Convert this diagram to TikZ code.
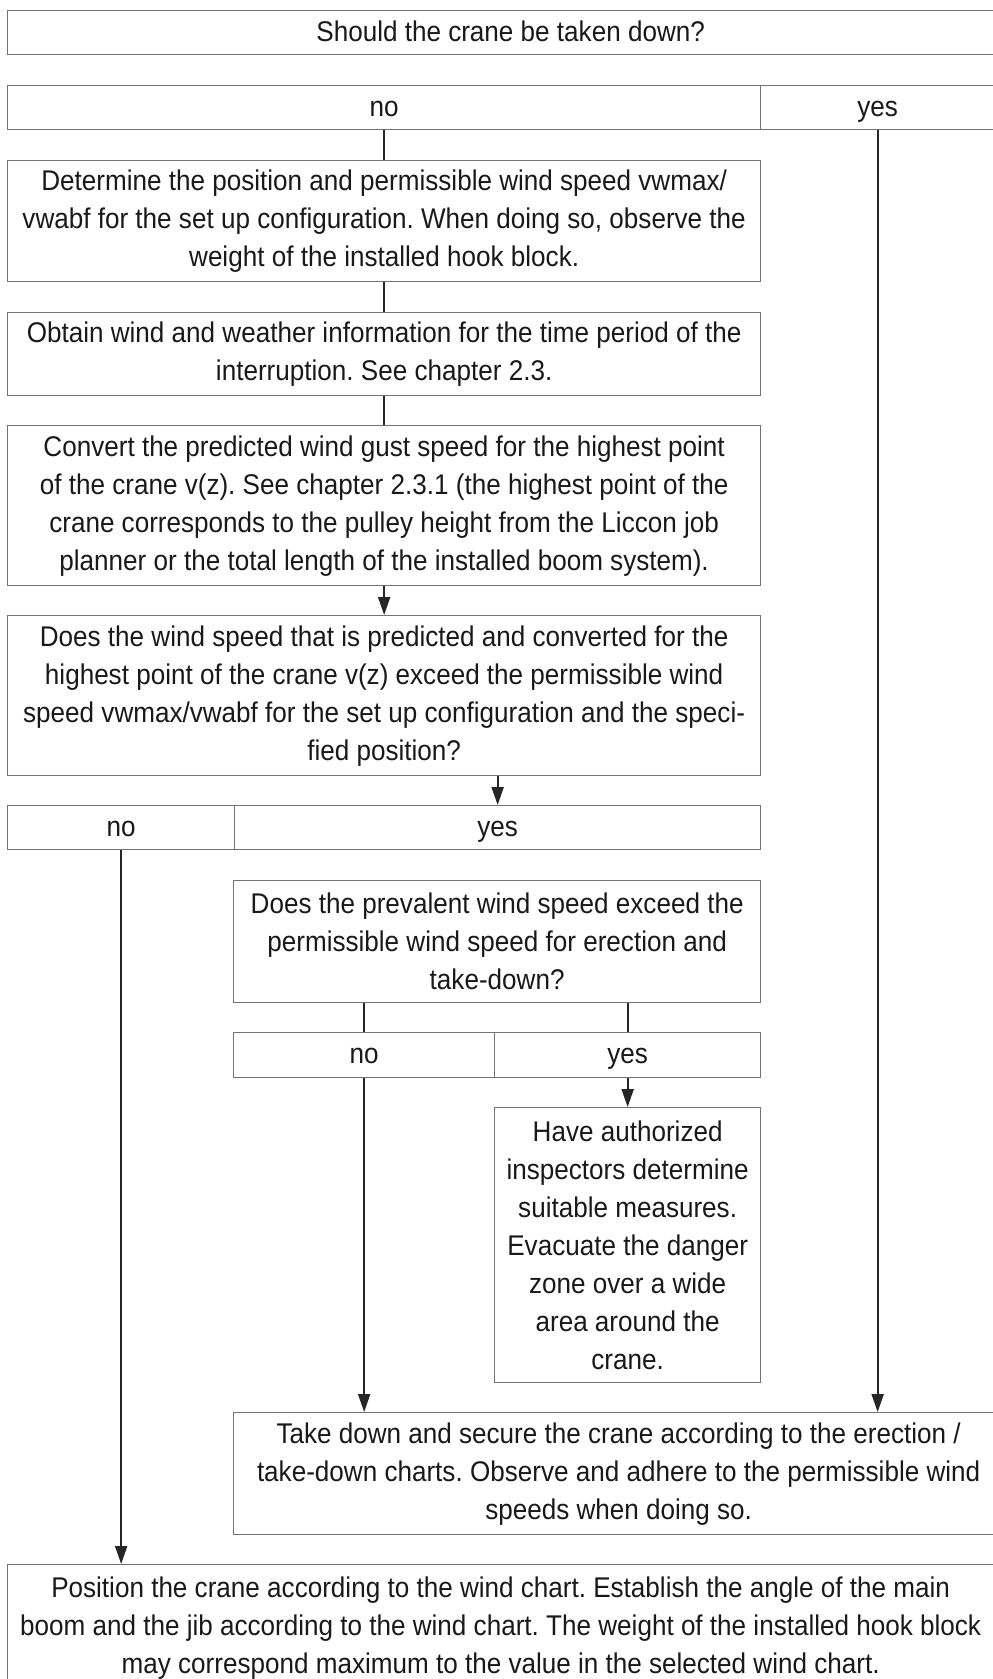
\documentclass[tikz,border=0pt]{standalone}
\usepackage{fontspec}
\setmainfont{Liberation Sans}[FakeStretch=0.915]
\usetikzlibrary{arrows.meta,positioning,calc}
\frenchspacing

\begin{document}
\begin{tikzpicture}[x=1pt,y=-1pt,
  cell/.style 2 args={draw=black!55,line width=1.3pt,inner sep=0pt,anchor=north west,
    align=center,text=black!90,font=\fontsize{28.5}{38}\selectfont,
    minimum width=#1pt,minimum height=#2pt},
  opt/.style 2 args={cell={#1}{#2},text height=23pt,text depth=6pt},
  link/.style={draw=black!85,line width=2pt},
  arr/.style={link,-{Triangle[length=18pt,width=12pt]}}]

 \useasboundingbox (0,0) rectangle (993,1679);
 \clip (0,0) rectangle (993,1679);

 % ---- question: take down? ----
 \node[opt={1006}{44}] (q1) at (7,10) {Should the crane be taken down?};
 \node[opt={753}{44}] (rno1) at (7,85) {no};
 \node[opt={234}{44}] (ryes1) at (760,85) {yes};

 % ---- main column ----
 \node[cell={753}{121}] (b1) at (7,160) {Determine the position and permissible wind speed vwmax/\\vwabf for the set up configuration. When doing so, observe the\\weight of the installed hook block.};
 \node[cell={753}{83}] (b2) at (7,312) {Obtain wind and weather information for the time period of the\\interruption. See chapter 2.3.};
 \node[cell={753}{160}] (b3) at (7,425) {Convert the predicted wind gust speed for the highest point\\of the crane v(z). See chapter 2.3.1 (the highest point of the\\crane corresponds to the pulley height from the Liccon job\\planner or the total length of the installed boom system).};
 \node[cell={753}{160}] (b4) at (7,615) {Does the wind speed that is predicted and converted for the\\highest point of the crane v(z) exceed the permissible wind\\speed vwmax/vwabf for the set up configuration and the speci-\\fied position?};
 \node[opt={227}{44}] (rno2) at (7,805) {no};
 \node[opt={526}{44}] (ryes2) at (234,805) {yes};

 % ---- erection wind speed ----
 \node[cell={527}{122}] (b5) at (233,880) {Does the prevalent wind speed exceed the\\permissible wind speed for erection and\\take-down?};
 \node[opt={261}{45}] (rno3) at (233,1032) {no};
 \node[opt={266}{45}] (ryes3) at (494,1032) {yes};
 \node[cell={266}{275}] (b6) at (494,1107) {Have authorized\\inspectors determine\\suitable measures.\\Evacuate the danger\\zone over a wide\\area around the\\crane.};

 % ---- results ----
 \node[cell={770}{122}] (b7) at (233,1412) {Take down and secure the crane according to the erection /\\take-down charts. Observe and adhere to the permissible wind\\speeds when doing so.};
 \node[cell={986}{126}] (b8) at (7,1564) {Position the crane according to the wind chart. Establish the angle of the main\\boom and the jib according to the wind chart. The weight of the installed hook block\\may correspond maximum to the value in the selected wind chart.};

 % ---- connectors ----
 \draw[link] (rno1.south) -- (b1.north);
 \draw[link] (b1.south) -- (b2.north);
 \draw[link] (b2.south) -- (b3.north);
 \draw[arr] (b3.south) -- (b4.north);
 \draw[arr] (b4.south -| ryes2.south) -- (ryes2.north);
 \draw[arr] (ryes1.south) -- (ryes1.south |- b7.north);
 \draw[arr] (rno2.south) -- (rno2.south |- b8.north);
 \draw[link] (b5.south -| rno3.north) -- (rno3.north);
 \draw[link] (b5.south -| ryes3.north) -- (ryes3.north);
 \draw[arr] (rno3.south) -- (rno3.south |- b7.north);
 \draw[arr] (ryes3.south) -- (b6.north);
\end{tikzpicture}
\end{document}
